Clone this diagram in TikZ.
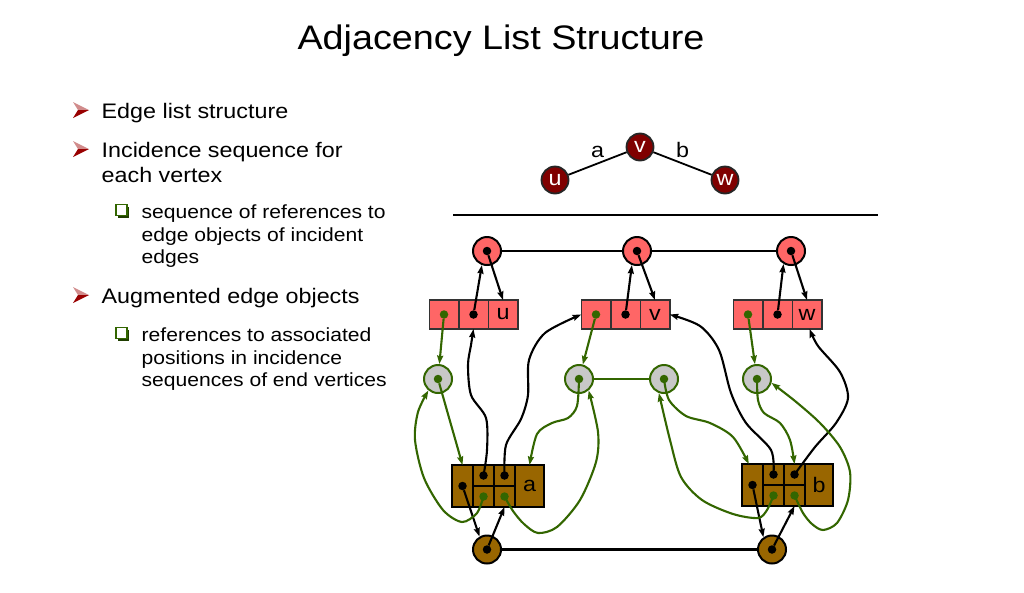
\documentclass[tikz,border=0pt]{standalone}
\usepackage{fontspec}
\setmainfont[FakeStretch=1.11]{Liberation Sans}
\usetikzlibrary{arrows.meta,positioning}

\definecolor{vxred}{RGB}{128,0,0}
\definecolor{posred}{RGB}{255,102,102}
\definecolor{edgebrown}{RGB}{153,102,0}
\definecolor{incgray}{RGB}{200,200,200}
\definecolor{refgreen}{RGB}{51,102,0}
\definecolor{bulred}{RGB}{153,0,0}

\begin{document}
\begin{tikzpicture}[x=1pt,y=-1pt,>={Stealth[length=8.5pt,width=6pt,inset=1pt]}]
  \tikzstyle{ttl}=[font=\fontsize{34}{40}\selectfont,inner sep=0pt]
  \tikzstyle{item}=[font=\fontsize{21}{25}\selectfont,anchor=base west,inner sep=0pt]
  \tikzstyle{subitem}=[font=\fontsize{19}{23}\selectfont,anchor=base west,inner sep=0pt]
  \tikzstyle{every node}=[font=\fontsize{21}{24}\selectfont]
  \tikzstyle{vertex}=[circle,draw=black!85,line width=1.8pt,fill=vxred,text=white,minimum size=27pt,inner sep=0pt]
  \tikzstyle{vpos}=[circle,draw=black,line width=2pt,fill=posred,minimum size=28pt,inner sep=0pt]
  \tikzstyle{epos}=[circle,draw=black,line width=2pt,fill=edgebrown,minimum size=28pt,inner sep=0pt]
  \tikzstyle{inc}=[circle,draw=refgreen,line width=2pt,fill=incgray,minimum size=28pt,inner sep=0pt]
  \tikzstyle{pcell}=[draw=black!80,line width=1.5pt,fill=posred,minimum width=29.5pt,minimum height=29pt,inner sep=0pt,outer sep=0pt]
  \tikzstyle{ecell}=[draw=black,line width=1.7pt,fill=edgebrown,minimum width=21pt,minimum height=42pt,inner sep=0pt,outer sep=0pt]
  \tikzstyle{halfcell}=[ecell,minimum height=21pt]
  \tikzstyle{bdot}=[circle,fill=black,minimum size=8.5pt,inner sep=0pt]
  \tikzstyle{gdot}=[circle,fill=refgreen,minimum size=8.5pt,inner sep=0pt]
  \tikzstyle{ref}=[->,line width=2.1pt,black]
  \tikzstyle{gref}=[->,line width=2.1pt,refgreen]

  \fill[white] (0,0) rectangle (1024,592);
  \useasboundingbox (0,0) rectangle (1024,592);

  % title and bullets
  \node[ttl,anchor=base] (title) at (501,49.5) {Adjacency List Structure};

  \node[item] (edgelist) at (101.5,118) {Edge list structure};
  \node[item] (incseq)   at (101.5,157) {Incidence sequence for};
  \node[item] (incseqb)  at (101.5,182) {each vertex};
  \node[subitem] (seqref)  at (141.5,218) {sequence of references to};
  \node[subitem] (seqrefb) at (141.5,241) {edge objects of incident};
  \node[subitem] (seqrefc) at (141.5,263.5) {edges};
  \node[item] (augm)     at (101.5,303) {Augmented edge objects};
  \node[subitem] (posref)  at (141.5,341) {references to associated};
  \node[subitem] (posrefb) at (141.5,364) {positions in incidence};
  \node[subitem] (posrefc) at (141.5,386.5) {sequences of end vertices};

  \foreach \y in {118,157,303} {
    \fill[bulred!45] (73,\y-16) -- (89,\y-8) -- (78,\y-8) -- cycle;
    \fill[bulred] (78,\y-8) -- (89,\y-8) -- (73,\y) -- cycle;
  }
  \foreach \y in {218,341} {
    \fill[refgreen!60!black] (118,\y-11.5) rectangle (129,\y-0.5);
    \draw[refgreen,line width=1.4pt,fill=white] (116,\y-13.5) rectangle (127,\y-2.5);
  }

  % the graph
  \node[vertex] (v) at (640,147) {v};
  \node[vertex] (u) at (555,180) {u};
  \node[vertex] (w) at (725,180) {w};
  \draw[line width=1.8pt] (u) -- node[above=1.5pt] {a} (v) -- node[above=1.5pt] {b} (w);

  \draw[line width=1.2pt] (453,215) -- (878,215);

  % vertex sequence
  \node[vpos] (p1) at (487,251) {};
  \node[vpos] (p2) at (637,251) {};
  \node[vpos] (p3) at (791,251) {};
  \draw[line width=2.2pt] (p1) -- (p2) -- (p3);
  \node[bdot] (p1d) at (p1) {};
  \node[bdot] (p2d) at (p2) {};
  \node[bdot] (p3d) at (p3) {};

  % vertex objects
  \node[pcell] (u1) at (444,314.5) {};
  \node[pcell,right=0pt of u1] (u2) {};
  \node[pcell,right=0pt of u2] (u3) {u};
  \node[pcell] (v1) at (596,314.5) {};
  \node[pcell,right=0pt of v1] (v2) {};
  \node[pcell,right=0pt of v2] (v3) {v};
  \node[pcell] (w1) at (748,314.5) {};
  \node[pcell,right=0pt of w1] (w2) {};
  \node[pcell,right=0pt of w2] (w3) {w};
  \foreach \c in {u,v,w} {
    \node[gdot] (\c1d) at (\c1) {};
    \node[bdot] (\c2d) at (\c2) {};
  }

  % incidence sequences
  \node[inc] (g1) at (438,379) {};
  \node[inc] (g2) at (579,379) {};
  \node[inc] (g3) at (664,379) {};
  \node[inc] (g4) at (757,379) {};
  \draw[refgreen,line width=1.3pt] (g2) -- (g3);
  \foreach \g in {g1,g2,g3,g4} \node[gdot] (\g d) at (\g) {};

  % edge objects
  \node[ecell] (ea0) at (462.5,486) {};
  \node[halfcell,below right=0pt and 0pt of ea0.north east] (eaTL) {};
  \node[halfcell,below=0pt of eaTL] (eaBL) {};
  \node[halfcell,right=0pt of eaTL] (eaTR) {};
  \node[halfcell,below=0pt of eaTR] (eaBR) {};
  \node[ecell,minimum width=29pt,below right=0pt and 0pt of eaTR.north east] (ea) {a};

  \node[ecell] (eb0) at (752.5,485) {};
  \node[halfcell,below right=0pt and 0pt of eb0.north east] (ebTL) {};
  \node[halfcell,below=0pt of ebTL] (ebBL) {};
  \node[halfcell,right=0pt of ebTL] (ebTR) {};
  \node[halfcell,below=0pt of ebTR] (ebBR) {};
  \node[ecell,minimum width=28pt,below right=0pt and 0pt of ebTR.north east] (eb) {b};

  \foreach \e in {ea,eb} {
    \node[bdot] (\e0d) at (\e0) {};
    \node[bdot] (\e TLd) at (\e TL) {};
    \node[bdot] (\e TRd) at (\e TR) {};
    \node[gdot] (\e BLd) at (\e BL) {};
    \node[gdot] (\e BRd) at (\e BR) {};
  }

  % edge sequence
  \node[epos] (la) at (487,549.5) {};
  \node[epos] (lb) at (772,549.5) {};
  \draw[line width=2.2pt] (la) -- (lb);
  \node[bdot] (lad) at (la) {};
  \node[bdot] (lbd) at (lb) {};

  % vertex references
  \draw[ref] (u2d) -- (p1.250);
  \draw[ref] (p1d) -- (u3.north);
  \draw[ref] (v2d) -- (p2.250);
  \draw[ref] (p2d) -- (v3.north);
  \draw[ref] (w2d) -- (p3.240);
  \draw[ref] (p3d) -- (w3.north);

  % edge references
  \draw[ref] (ea0d) -- (la.120);
  \draw[ref] (lad) -- (eaBR.south);
  \draw[ref] (eb0d) -- (lb.125);
  \draw[ref] (lbd) -- (ebBR.south);
  \draw[ref] plot[smooth] coordinates {(eaTLd.center) (487,450) (486,418) (471,395) (468,365) (471,345) (u2.south)};
  \draw[ref] plot[smooth] coordinates {(eaTRd.center) (506,445) (521,419) (528,395) (529,360) (545,333) (v1.west)};
  \draw[ref] plot[smooth] coordinates {(ebTLd.center) (771,450) (746,423) (731,393) (719,350) (700,326) (v3.east)};
  \draw[ref] plot[smooth] coordinates {(ebTRd.center) (815,447) (836,423) (848,398) (840,372) (818,346) (w3.280)};

  % incidence references
  \draw[gref] (u1d) -- (g1);
  \draw[gref] (v1d) -- (g2);
  \draw[gref] (w1d) -- (g4);
  \draw[gref] (g1d) -- (ea0.north);
  \draw[gref] plot[smooth] coordinates {(g2d.center) (577,406) (568,418) (552,423) (537,434) (ea.north)};
  \draw[gref] plot[smooth] coordinates {(g3d.center) (669,400) (686,416) (710,423) (733,437) (eb0.100)};
  \draw[gref] plot[smooth] coordinates {(g4d.center) (758,400) (764,413) (780,423) (790,440) (ebTR.north)};
  \draw[gref] plot[smooth] coordinates {(eaBLd.center) (477,513) (462,522) (443,510) (424,478) (415,440) (418,412) (g1.230)};
  \draw[gref] plot[smooth] coordinates {(eaBRd.center) (513,511) (524,524) (538,533) (557,527) (580,500) (596,462) (598,432) (g2.-50)};
  \draw[gref] plot[smooth] coordinates {(ebBLd.center) (767,510) (758,518) (733,514) (702,500) (681,477) (670,440) (g3.250)};
  \draw[gref] plot[smooth] coordinates {(ebBRd.center) (803,513) (812,524) (823,530) (837,523) (848,500) (850,472) (840,447) (820,423) (795,401) (g4.-15)};
\end{tikzpicture}
\end{document}
